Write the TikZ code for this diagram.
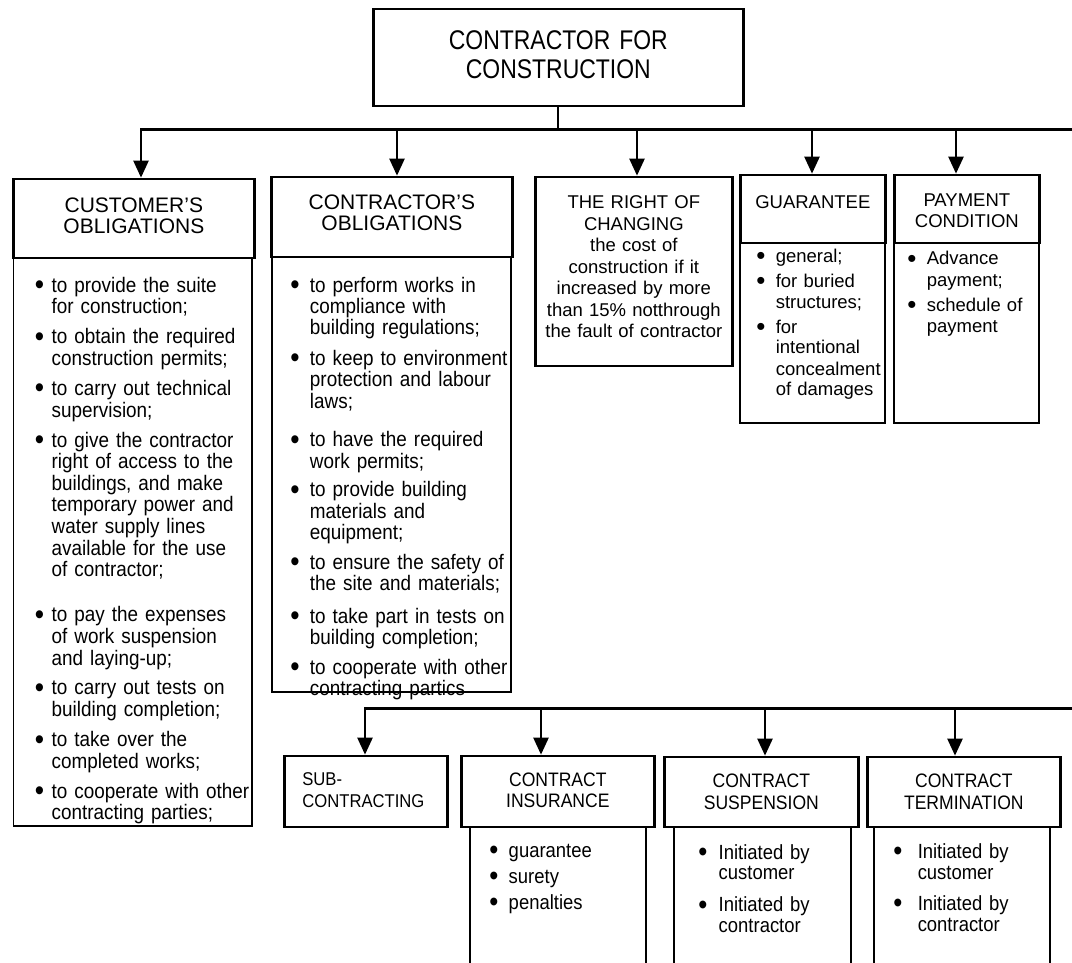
\documentclass[tikz,border=0pt]{standalone}
\usepackage{fontspec}
\setmainfont{Liberation Sans}
\newfontfamily\narrowsans{Liberation Sans}[FakeStretch=0.9]
\newfontfamily\titlesans{Liberation Sans}[FakeStretch=0.85]
\usetikzlibrary{arrows.meta}

\newcommand{\bul}{\raisebox{-0.12em}{\scalebox{1.4}{\textbullet}}}

\tikzset{
  headbox/.style={draw, line width=2.7pt, inner sep=0pt, align=center, anchor=base west},
  listbox/.style={draw, line width=1.8pt, inner ysep=0pt, anchor=base west},
  boxdims/.style n args={3}{text width=#1pt, text height=#2pt, text depth=#3pt},
  link/.style={line width=2.4pt, -{Triangle[width=15pt, length=17pt]}},
  bus/.style={line width=3pt, line cap=rect},
}

\begin{document}
\begin{tikzpicture}[x=1pt, y=-1pt]
  \useasboundingbox (0,0) rectangle (1072,963);

  % Caja principal
  \node[headbox, boxdims={370}{41}{56}, font=\titlesans\fontsize{27}{29}\selectfont] (main) at (372,50) {CONTRACTOR FOR\\CONSTRUCTION};

  % Fila superior: cabeceras
  \node[headbox, boxdims={241}{33}{46}, font=\fontsize{21}{21}\selectfont] (cust) at (12,212) {CUSTOMER'S\\OBLIGATIONS};
  \node[headbox, boxdims={241}{33}{47}, font=\fontsize{21}{21}\selectfont] (contr) at (270,210) {CONTRACTOR'S\\OBLIGATIONS};
  \node[headbox, boxdims={197}{32}{157}, font=\fontsize{18.5}{21.5}\selectfont] (change) at (534,209) {THE RIGHT OF\\CHANGING\\the cost of\\construction if it\\increased by more\\than 15\% notthrough\\the fault of contractor};
  \node[headbox, boxdims={145}{34}{34}, font=\fontsize{18.5}{21}\selectfont] (guar) at (739,209) {GUARANTEE};
  \node[headbox, boxdims={145}{32}{36}, font=\fontsize{18.5}{21}\selectfont] (pay) at (893,207) {PAYMENT\\CONDITION};

  % Fila superior: listas
  \node[listbox, inner xsep=21.5pt, boxdims={195.5}{34}{534}, font=\narrowsans\fontsize{21}{21.3}\selectfont] (custlist) at (12.5,292) {%
    \begin{tabular}[t]{@{}l@{\hspace{7.5pt}}l@{}}
      \bul & to provide the suite\\
           & for construction;\\[8.5pt]
      \bul & to obtain the required\\
           & construction permits;\\[8.5pt]
      \bul & to carry out technical\\
           & supervision;\\[8.5pt]
      \bul & to give the contractor\\
           & right of access to the\\
           & buildings, and make\\
           & temporary power and\\
           & water supply lines\\
           & available for the use\\
           & of contractor;\\[23.5pt]
      \bul & to pay the expenses\\
           & of work suspension\\
           & and laying-up;\\[8.5pt]
      \bul & to carry out tests on\\
           & building completion;\\[8.5pt]
      \bul & to take over the\\
           & completed works;\\[8.5pt]
      \bul & to cooperate with other\\
           & contracting parties;
    \end{tabular}};
  \node[listbox, inner xsep=18.5pt, boxdims={202}{35}{400}, font=\narrowsans\fontsize{21}{20.9}\selectfont] (contrlist) at (271,292) {%
    \begin{tabular}[t]{@{}l@{\hspace{10.3pt}}l@{}}
      \bul & to perform works in\\
           & compliance with\\
           & building regulations;\\[9pt]
      \bul & to keep to environment\\
           & protection and labour\\
           & laws;\\[17pt]
      \bul & to have the required\\
           & work permits;\\[7pt]
      \bul & to provide building\\
           & materials and\\
           & equipment;\\[8pt]
      \bul & to ensure the safety of\\
           & the site and materials;\\[11pt]
      \bul & to take part in tests on\\
           & building completion;\\[8pt]
      \bul & to cooperate with other\\
           & contracting partics
    \end{tabular}};
  \node[listbox, inner xsep=16.5pt, boxdims={112}{19}{161}, font=\fontsize{18.5}{21}\selectfont] (guarlist) at (739,262) {%
    \begin{tabular}[t]{@{}l@{\hspace{10.3pt}}l@{}}
      \bul & general;\\[4pt]
      \bul & for buried\\
           & structures;\\[4pt]
      \bul & for\\
           & intentional\\
           & concealment\\
           & of damages
    \end{tabular}};
  \node[listbox, inner xsep=13.5pt, boxdims={118}{22}{158}, font=\fontsize{18.5}{21.5}\selectfont] (paylist) at (893,265) {%
    \begin{tabular}[t]{@{}l@{\hspace{10.3pt}}l@{}}
      \bul & Advance\\
           & payment;\\[3.5pt]
      \bul & schedule of\\
           & payment
    \end{tabular}};

  % Fila inferior: cabeceras
  \node[headbox, align=left, inner xsep=18pt, boxdims={127}{29}{42}, font=\narrowsans\fontsize{18.5}{22}\selectfont] (sub) at (283,785) {SUB-\\CONTRACTING};
  \node[headbox, boxdims={193}{30}{41}, font=\narrowsans\fontsize{19.5}{21}\selectfont] (insur) at (460,786) {CONTRACT\\INSURANCE};
  \node[headbox, boxdims={194}{30}{40}, font=\narrowsans\fontsize{19.5}{22}\selectfont] (susp) at (663,787) {CONTRACT\\SUSPENSION};
  \node[headbox, boxdims={193}{30}{40}, font=\narrowsans\fontsize{19.5}{22}\selectfont] (term) at (866,787) {CONTRACT\\TERMINATION};

  % Fila inferior: listas
  \node[listbox, inner xsep=19.5pt, boxdims={137}{30}{120}, font=\narrowsans\fontsize{20.5}{21}\selectfont] (insurlist) at (469,857) {%
    \begin{tabular}[t]{@{}l@{\hspace{10.3pt}}l@{}}
      \bul & guarantee\\[5pt]
      \bul & surety\\[5pt]
      \bul & penalties
    \end{tabular}};
  \node[listbox, inner xsep=24.5pt, boxdims={128}{32}{118}, font=\narrowsans\fontsize{20.5}{20.8}\selectfont] (susplist) at (673,859) {%
    \begin{tabular}[t]{@{}l@{\hspace{11.3pt}}l@{}}
      \bul & Initiated by\\
           & customer\\[11pt]
      \bul & Initiated by\\
           & contractor
    \end{tabular}};
  \node[listbox, inner xsep=19.5pt, boxdims={137}{31}{119}, font=\narrowsans\fontsize{20.5}{21}\selectfont] (termlist) at (873,858) {%
    \begin{tabular}[t]{@{}l@{\hspace{15.3pt}}l@{}}
      \bul & Initiated by\\
           & customer\\[10pt]
      \bul & Initiated by\\
           & contractor
    \end{tabular}};

  % Conectores superiores
  \coordinate (topbus) at (1080,130);
  \coordinate (b1) at (141,130);
  \coordinate (b2) at (397,130);
  \coordinate (b3) at (637,130);
  \coordinate (b4) at (812,130);
  \coordinate (b5) at (956,130);
  \draw[line width=2pt] (main.south) -- (main.south |- topbus);
  \draw[bus] (topbus) -- (b1);
  \draw[link] (b1) -- (b1 |- cust.north);
  \draw[link] (b2) -- (b2 |- contr.north);
  \draw[link] (b3) -- (b3 |- change.north);
  \draw[link] (b4) -- (b4 |- guar.north);
  \draw[link] (b5) -- (b5 |- pay.north);

  % Conectores inferiores
  \coordinate (lowbus) at (1080,708);
  \coordinate (d1) at (365,708);
  \coordinate (d2) at (541,708);
  \coordinate (d3) at (765,708);
  \coordinate (d4) at (955,708);
  \draw[bus] (lowbus) -- (d1);
  \draw[link] (d1) -- (d1 |- sub.north);
  \draw[link] (d2) -- (d2 |- insur.north);
  \draw[link] (d3) -- (d3 |- susp.north);
  \draw[link] (d4) -- (d4 |- term.north);
\end{tikzpicture}
\end{document}
